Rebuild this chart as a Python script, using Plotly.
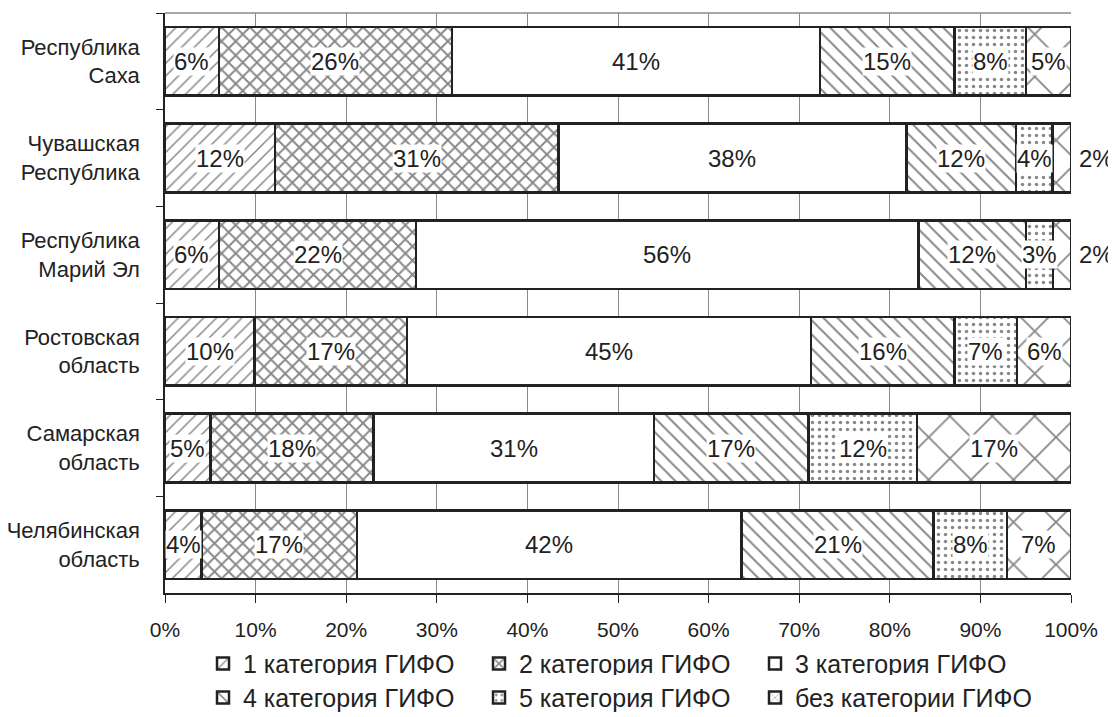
import plotly.graph_objects as go
import numpy as np

regions = ["Республика<br>Саха", "Чувашская<br>Республика", "Республика<br>Марий Эл",
           "Ростовская<br>область", "Самарская<br>область", "Челябинская<br>область"]
series_names = ["1 категория ГИФО", "2 категория ГИФО", "3 категория ГИФО",
                "4 категория ГИФО", "5 категория ГИФО", "без категории ГИФО"]
cat1 = [6, 12, 6, 10, 5, 4]
cat2 = [26, 31, 22, 17, 18, 17]
cat3 = [41, 38, 56, 45, 31, 42]
cat4 = [15, 12, 12, 16, 17, 21]
cat5 = [8, 4, 3, 7, 12, 8]
nocat = [5, 2, 2, 6, 17, 7]
x_ticks = [0, 10, 20, 30, 40, 50, 60, 70, 80, 90, 100]
x_tick_labels = ["0%", "10%", "20%", "30%", "40%", "50%", "60%", "70%", "80%", "90%", "100%"]

series = [cat1, cat2, cat3, cat4, cat5, nocat]

FG = "#111111"
patterns = [
    dict(shape="/", size=9, solidity=0.17, fgcolor=FG, bgcolor="white"),
    dict(shape="x", size=10, solidity=0.35, fgcolor=FG, bgcolor="white"),
    dict(shape="", fgcolor=FG, bgcolor="white"),
    dict(shape="\\", size=10, solidity=0.2, fgcolor=FG, bgcolor="white"),
    dict(shape=".", size=7, solidity=0.2, fgcolor=FG, bgcolor="white"),
    dict(shape="x", size=30, solidity=0.12, fgcolor=FG, bgcolor="white"),
]

FONT = "Liberation Sans, Arial, sans-serif"
fig = go.Figure()
for i, (name, vals) in enumerate(zip(series_names, series)):
    fig.add_trace(go.Bar(
        y=regions, x=vals, name=name, orientation="h",
        marker=dict(color="white", pattern=patterns[i], line=dict(color="#222222", width=2.5)),
        legend="legend" if i < 3 else "legend2",
        hoverinfo="skip",
    ))

# labels at segment centers (bars normalized to 100%)
arr = np.array(series, dtype=float)  # (series, regions)
totals = arr.sum(axis=0)
norm = arr / totals * 100
cum = np.cumsum(norm, axis=0)
annotations = []
for si in range(arr.shape[0]):
    for ri in range(arr.shape[1]):
        v = series[si][ri]
        center = cum[si, ri] - norm[si, ri] / 2
        if v <= 2:
            annotations.append(dict(x=100, y=regions[ri], xref="x", yref="y", text=f"{v}%",
                                    showarrow=False, xanchor="left", xshift=6,
                                    font=dict(size=24, color="#222222", family=FONT)))
        else:
            annotations.append(dict(x=center, y=regions[ri], xref="x", yref="y", text=f"{v}%",
                                    showarrow=False, bgcolor="white", borderpad=0,
                                    font=dict(size=24, color="#222222", family=FONT)))

fig.update_layout(
    width=1108, height=709,
    barmode="stack", barnorm="percent", bargap=0.29,
    paper_bgcolor="white", plot_bgcolor="white",
    margin=dict(l=157, r=45, t=5, b=124, autoexpand=False),
    font=dict(family=FONT, size=21, color="#222222"),
    annotations=annotations,
    xaxis=dict(range=[0, 100], tickvals=x_ticks, ticktext=x_tick_labels,
               showgrid=True, gridcolor="#8a8a8a", gridwidth=1,
               showline=True, linecolor="#222222", linewidth=1.5,
               ticks="outside", ticklen=8, tickcolor="#222222",
               ticklabelstandoff=9, zeroline=False,
               tickfont=dict(size=21)),
    yaxis=dict(categoryorder="array", categoryarray=regions, autorange="reversed",
               showline=True, linecolor="#222222", linewidth=1.5,
               ticks="outside", ticklen=7, tickson="boundaries", tickcolor="#222222",
               ticklabelstandoff=19, showgrid=False,
               tickfont=dict(size=22)),
    legend=dict(orientation="h", xref="container", yref="container",
                x=0.176, xanchor="left", y=0.075, yanchor="middle",
                entrywidth=231, font=dict(size=25), traceorder="normal"),
    legend2=dict(orientation="h", xref="container", yref="container",
                 x=0.176, xanchor="left", y=0.027, yanchor="middle",
                 entrywidth=231, font=dict(size=25), traceorder="normal"),
    shapes=[dict(type="line", xref="paper", yref="paper", x0=0, x1=1, y0=1, y1=1,
                 line=dict(color="#8a8a8a", width=1.5))],
)

fig.write_html("out.html")
